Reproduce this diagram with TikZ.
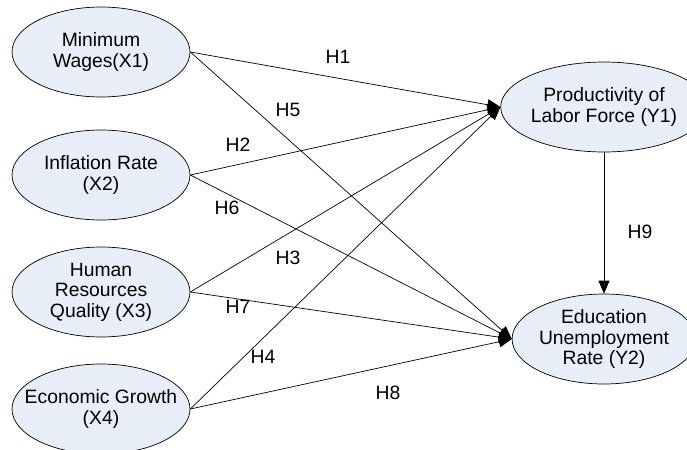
\documentclass[tikz,border=0pt]{standalone}
\usepackage{fontspec}
\setmainfont{Liberation Sans}
\usepackage{tikz}
\usetikzlibrary{arrows.meta,shapes.geometric}

\definecolor{varfill}{RGB}{232,238,248}

\tikzset{
  var/.style={ellipse, draw=black, fill=varfill, thin, inner sep=0pt,
    minimum width=3.56cm, minimum height=1.8cm, align=center,
    font=\fontsize{11}{11.6}\selectfont},
  path/.style={-{Triangle[length=0.26cm, width=0.22cm]}, thin},
  hyp/.style={font=\fontsize{11}{12}\selectfont}
}

\begin{document}
\begin{tikzpicture}[x=0.02cm, y=-0.02cm]

\useasboundingbox (0,0) rectangle (687,450);

% Exogenous variables
\node[var] (x1) at (101,52) {Minimum\\Wages(X1)};
\node[var] (x2) at (101,175) {Inflation Rate\\(X2)};
\node[var] (x3) at (101,292) {Human\\Resources\\Quality (X3)};
\node[var] (x4) at (101,409) {\makebox[2.4cm]{Economic Growth}\\(X4)};

% Endogenous variables
\node[var, minimum width=3.3cm] (y1) at (604,107) {Productivity of\\Labor Force (Y1)};
\node[var, minimum width=3.3cm] (y2) at (604,339) {Education\\Unemployment\\Rate (Y2)};

% Hypothesised paths
\foreach \v in {x1,x2,x3,x4} {
  \draw[path] (\v.east) -- (y1.west);
  \draw[path] (\v.east) -- (y2.west);
}
\draw[path] (y1.south) -- (y2.north);

% Path labels
\node[hyp] (h1) at (338,57) {H1};
\node[hyp] (h2) at (238,145) {H2};
\node[hyp] (h3) at (288,258) {H3};
\node[hyp] (h4) at (263,357) {H4};
\node[hyp] (h5) at (288,110) {H5};
\node[hyp] (h6) at (227,208) {H6};
\node[hyp] (h7) at (238,307) {H7};
\node[hyp] (h8) at (388,393) {H8};
\node[hyp] (h9) at (640,232) {H9};

\end{tikzpicture}
\end{document}
